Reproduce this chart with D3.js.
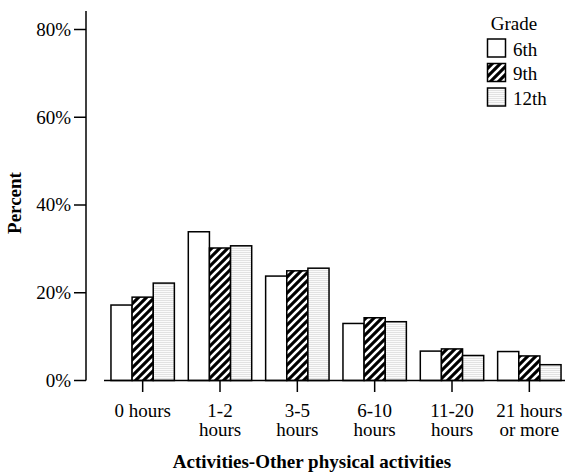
<!DOCTYPE html>
<html><head><meta charset="utf-8">
<script src="https://cdn.jsdelivr.net/npm/d3@7"></script>
<style>
html,body{margin:0;padding:0;background:#fff;}
text{font-family:"Liberation Serif","Times New Roman",serif;fill:#000;}
</style></head>
<body>
<svg id="chart" width="567" height="475"></svg>
<script>
const categories = ["0 hours", "1-2 hours", "3-5 hours", "6-10 hours", "11-20 hours", "21 hours or more"];
const categoryLines = [["0 hours"], ["1-2", "hours"], ["3-5", "hours"], ["6-10", "hours"], ["11-20", "hours"], ["21 hours", "or more"]];
const grades = ["6th", "9th", "12th"];
const grade6 = [17.2, 33.9, 23.8, 13.0, 6.7, 6.6];
const grade9 = [19.0, 30.2, 25.0, 14.3, 7.2, 5.6];
const grade12 = [22.2, 30.7, 25.6, 13.4, 5.7, 3.6];
const yTicks = [0, 20, 40, 60, 80];
const xTitle = "Activities-Other physical activities";
const yTitle = "Percent";
const legendTitle = "Grade";

const seriesValues = [grade6, grade9, grade12];
const svg = d3.select("#chart");
const defs = svg.append("defs");

// hatch pattern (9th)
const hatch = defs.append("pattern").attr("id", "hatch")
  .attr("patternUnits", "userSpaceOnUse").attr("width", 8).attr("height", 8);
hatch.append("rect").attr("width", 8).attr("height", 8).attr("fill", "#000");
hatch.append("path").attr("d", "M-2,2 L2,-2 M0,8 L8,0 M6,10 L10,6")
  .attr("stroke", "#fff").attr("stroke-width", 2.6);

// light lined pattern (12th)
const dots = defs.append("pattern").attr("id", "dots")
  .attr("patternUnits", "userSpaceOnUse").attr("width", 4).attr("height", 2);
dots.append("rect").attr("width", 4).attr("height", 2).attr("fill", "#fbfbfb");
dots.append("rect").attr("width", 4).attr("height", 1).attr("fill", "#e2e2e2");

const fills = {"6th": "#fff", "9th": "url(#hatch)", "12th": "url(#dots)"};

const x = d3.scaleBand().domain(categories).range([104, 568]).padding(0);
const xs = d3.scaleBand().domain(grades).range([-31.7, 31.7]).padding(0);
const y = d3.scaleLinear().domain([0, 80]).range([380.5, 29.5]);

// bars
const g = svg.append("g");
categories.forEach((c, i) => {
  grades.forEach((gr, j) => {
    const v = seriesValues[j][i];
    g.append("rect")
      .attr("x", x(c) + x.bandwidth() / 2 + xs(gr))
      .attr("y", y(v))
      .attr("width", xs.bandwidth())
      .attr("height", y(0) - y(v))
      .attr("fill", fills[gr])
      .attr("stroke", "#000")
      .attr("stroke-width", 1.5);
  });
});

// y axis
const yAxis = svg.append("g").attr("transform", "translate(86,0)");
yAxis.append("line").attr("x1", 0).attr("x2", 0).attr("y1", 11).attr("y2", y(0))
  .attr("stroke", "#000").attr("stroke-width", 1.5);
yAxis.selectAll(".yt").data(yTicks).enter().append("line")
  .attr("x1", -12).attr("x2", 0).attr("y1", d => y(d)).attr("y2", d => y(d))
  .attr("stroke", "#000").attr("stroke-width", 1.5);
yAxis.selectAll(".yl").data(yTicks).enter().append("text")
  .attr("x", -15).attr("y", d => y(d)).attr("dy", "0.33em")
  .attr("text-anchor", "end").style("font-size", "19px")
  .text(d => d + "%");

// x axis
const xAxis = svg.append("g");
xAxis.append("line").attr("x1", 104).attr("x2", 565).attr("y1", y(0)).attr("y2", y(0))
  .attr("stroke", "#000").attr("stroke-width", 1.5);
categories.forEach((c, i) => {
  const cx = x(c) + x.bandwidth() / 2;
  xAxis.append("line").attr("x1", cx).attr("x2", cx).attr("y1", y(0)).attr("y2", y(0) + 11.5)
    .attr("stroke", "#000").attr("stroke-width", 1.5);
  const t = xAxis.append("text").attr("x", cx).attr("y", 416.5)
    .attr("text-anchor", "middle").style("font-size", "19px");
  categoryLines[i].forEach((ln, k) => {
    t.append("tspan").attr("x", cx).attr("dy", k === 0 ? 0 : 19).text(ln);
  });
});

// titles
svg.append("text").attr("x", 312).attr("y", 468).attr("text-anchor", "middle")
  .style("font-size", "19px").style("font-weight", "bold").text(xTitle);
svg.append("text").attr("transform", "translate(21,203) rotate(-90)")
  .attr("text-anchor", "middle").style("font-size", "19px").style("font-weight", "bold").text(yTitle);

// legend
const leg = svg.append("g");
leg.append("text").attr("x", 514).attr("y", 30).attr("text-anchor", "middle")
  .style("font-size", "19px").text(legendTitle);
grades.forEach((gr, j) => {
  const top = 39 + j * 24.5;
  leg.append("rect").attr("x", 487.5).attr("y", top).attr("width", 18).attr("height", 18)
    .attr("fill", fills[gr]).attr("stroke", "#000").attr("stroke-width", 1.5);
  leg.append("text").attr("x", 513).attr("y", top + 16.5).style("font-size", "19px").text(gr);
});
</script>
</body></html>
